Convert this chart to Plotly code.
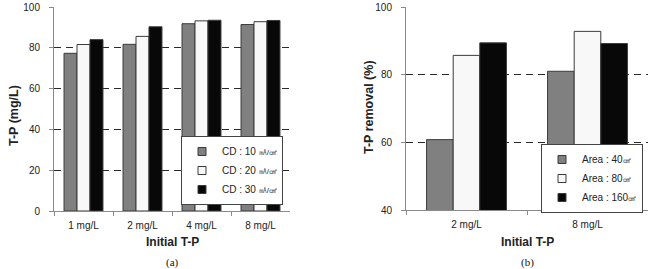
import plotly.graph_objects as go

# ---- data ----
cats_a = ["1 mg/L", "2 mg/L", "4 mg/L", "8 mg/L"]
cd10 = [77.3, 81.7, 91.8, 91.4]
cd20 = [81.6, 85.6, 93.2, 92.8]
cd30 = [84.0, 90.3, 93.5, 93.4]
names_a = ["CD : 10 ", "CD : 20 ", "CD : 30 "]
unit_a = "㎃/㎠"

cats_b = ["2 mg/L", "8 mg/L"]
area40 = [60.8, 81.0]
area80 = [85.7, 92.8]
area160 = [89.4, 89.2]
names_b = ["Area : 40", "Area : 80", "Area : 160"]
unit_b = "㎠"

yticks_a = [0, 20, 40, 60, 80, 100]
yticks_b = [40, 60, 80, 100]

W, H = 665, 269
colors = ["#808080", "#f8f8f8", "#080808"]
edge = "#3a3a3a"
font_main = "Liberation Sans, Arial, sans-serif"

fig = go.Figure()

# panel (a)
for vals, nm, c in zip([cd10, cd20, cd30], names_a, colors):
    fig.add_trace(go.Bar(x=cats_a, y=vals, marker=dict(color=c, line=dict(color=edge, width=1)),
                         showlegend=False, xaxis="x", yaxis="y"))
    fig.add_trace(go.Scatter(x=[None], y=[None], mode="markers", name=nm + "<span style='font-size:8px'>" + unit_a + "</span>",
                             marker=dict(symbol="square", size=8, color=c, line=dict(color=edge, width=1)),
                             xaxis="x", yaxis="y", legend="legend"))
# panel (b)
for vals, nm, c in zip([area40, area80, area160], names_b, colors):
    fig.add_trace(go.Bar(x=cats_b, y=vals, marker=dict(color=c, line=dict(color=edge, width=1)),
                         showlegend=False, xaxis="x2", yaxis="y2"))
    fig.add_trace(go.Scatter(x=[None], y=[None], mode="markers", name=nm + "<span style='font-size:8px'>" + unit_b + "</span>",
                             marker=dict(symbol="square", size=8, color=c, line=dict(color=edge, width=1)),
                             xaxis="x2", yaxis="y2", legend="legend2"))

def px_x(p):
    return p / W

def px_y(p):
    return 1 - p / H

grid = dict(showgrid=True, gridcolor="#2a2a2a", gridwidth=1.3, griddash="7px,5px")
axis_common = dict(showline=True, linecolor="#8a8a8a", linewidth=1, ticks="outside",
                   tickcolor="#8a8a8a", ticklen=4, zeroline=False, automargin=False,
                   tickfont=dict(family=font_main, size=10, color="#222"))

def ann(text, x, y, size, angle=0, family=font_main, color="#222"):
    return dict(text=text, x=px_x(x), y=px_y(y), xref="paper", yref="paper",
                xanchor="center", yanchor="middle", textangle=angle, showarrow=False,
                font=dict(family=family, size=size, color=color))

fig.update_layout(
    template="none",
    width=W, height=H, margin=dict(l=0, r=0, t=0, b=0, pad=0, autoexpand=False),
    paper_bgcolor="white", plot_bgcolor="white",
    barmode="group", bargap=0.34, bargroupgap=0,
    font=dict(family=font_main, size=10, color="#222"),
    xaxis=dict(domain=[px_x(54), px_x(290)], anchor="y", tickson="boundaries", showgrid=False,
               ticklabelstandoff=5, **axis_common),
    yaxis=dict(domain=[px_y(211), px_y(7)], anchor="x", range=[0, 100], tickvals=yticks_a,
               ticklabelstandoff=7, **grid, **axis_common),
    xaxis2=dict(domain=[px_x(406), px_x(648)], anchor="y2", tickson="boundaries", showgrid=False,
                ticklabelstandoff=5, **axis_common),
    yaxis2=dict(domain=[px_y(210), px_y(7)], anchor="x2", range=[40, 100], tickvals=yticks_b,
                ticklabelstandoff=7, **grid, **axis_common),
    legend=dict(x=px_x(181), y=px_y(136), xanchor="left", yanchor="top", bgcolor="white",
                bordercolor="#444", borderwidth=1, font=dict(size=10, color="#222"),
                itemwidth=30, tracegroupgap=0),
    legend2=dict(x=px_x(541), y=px_y(144), xanchor="left", yanchor="top", bgcolor="white",
                 bordercolor="#444", borderwidth=1, font=dict(size=10, color="#222"),
                 itemwidth=30, tracegroupgap=0),
    annotations=[
        ann("<b>T-P (mg/L)</b>", 14, 116, 12.5, angle=-90),
        ann("<b>T-P removal (%)</b>", 369, 107, 12.5, angle=-90),
        ann("<b>Initial T-P</b>", 172, 242, 12),
        ann("<b>Initial T-P</b>", 527, 242, 12),
        ann("(a)", 172, 262, 11, family="Liberation Serif, serif", color="#111"),
        ann("(b)", 527, 262, 11, family="Liberation Serif, serif", color="#111"),
    ],
)

fig.write_html("out.html")
